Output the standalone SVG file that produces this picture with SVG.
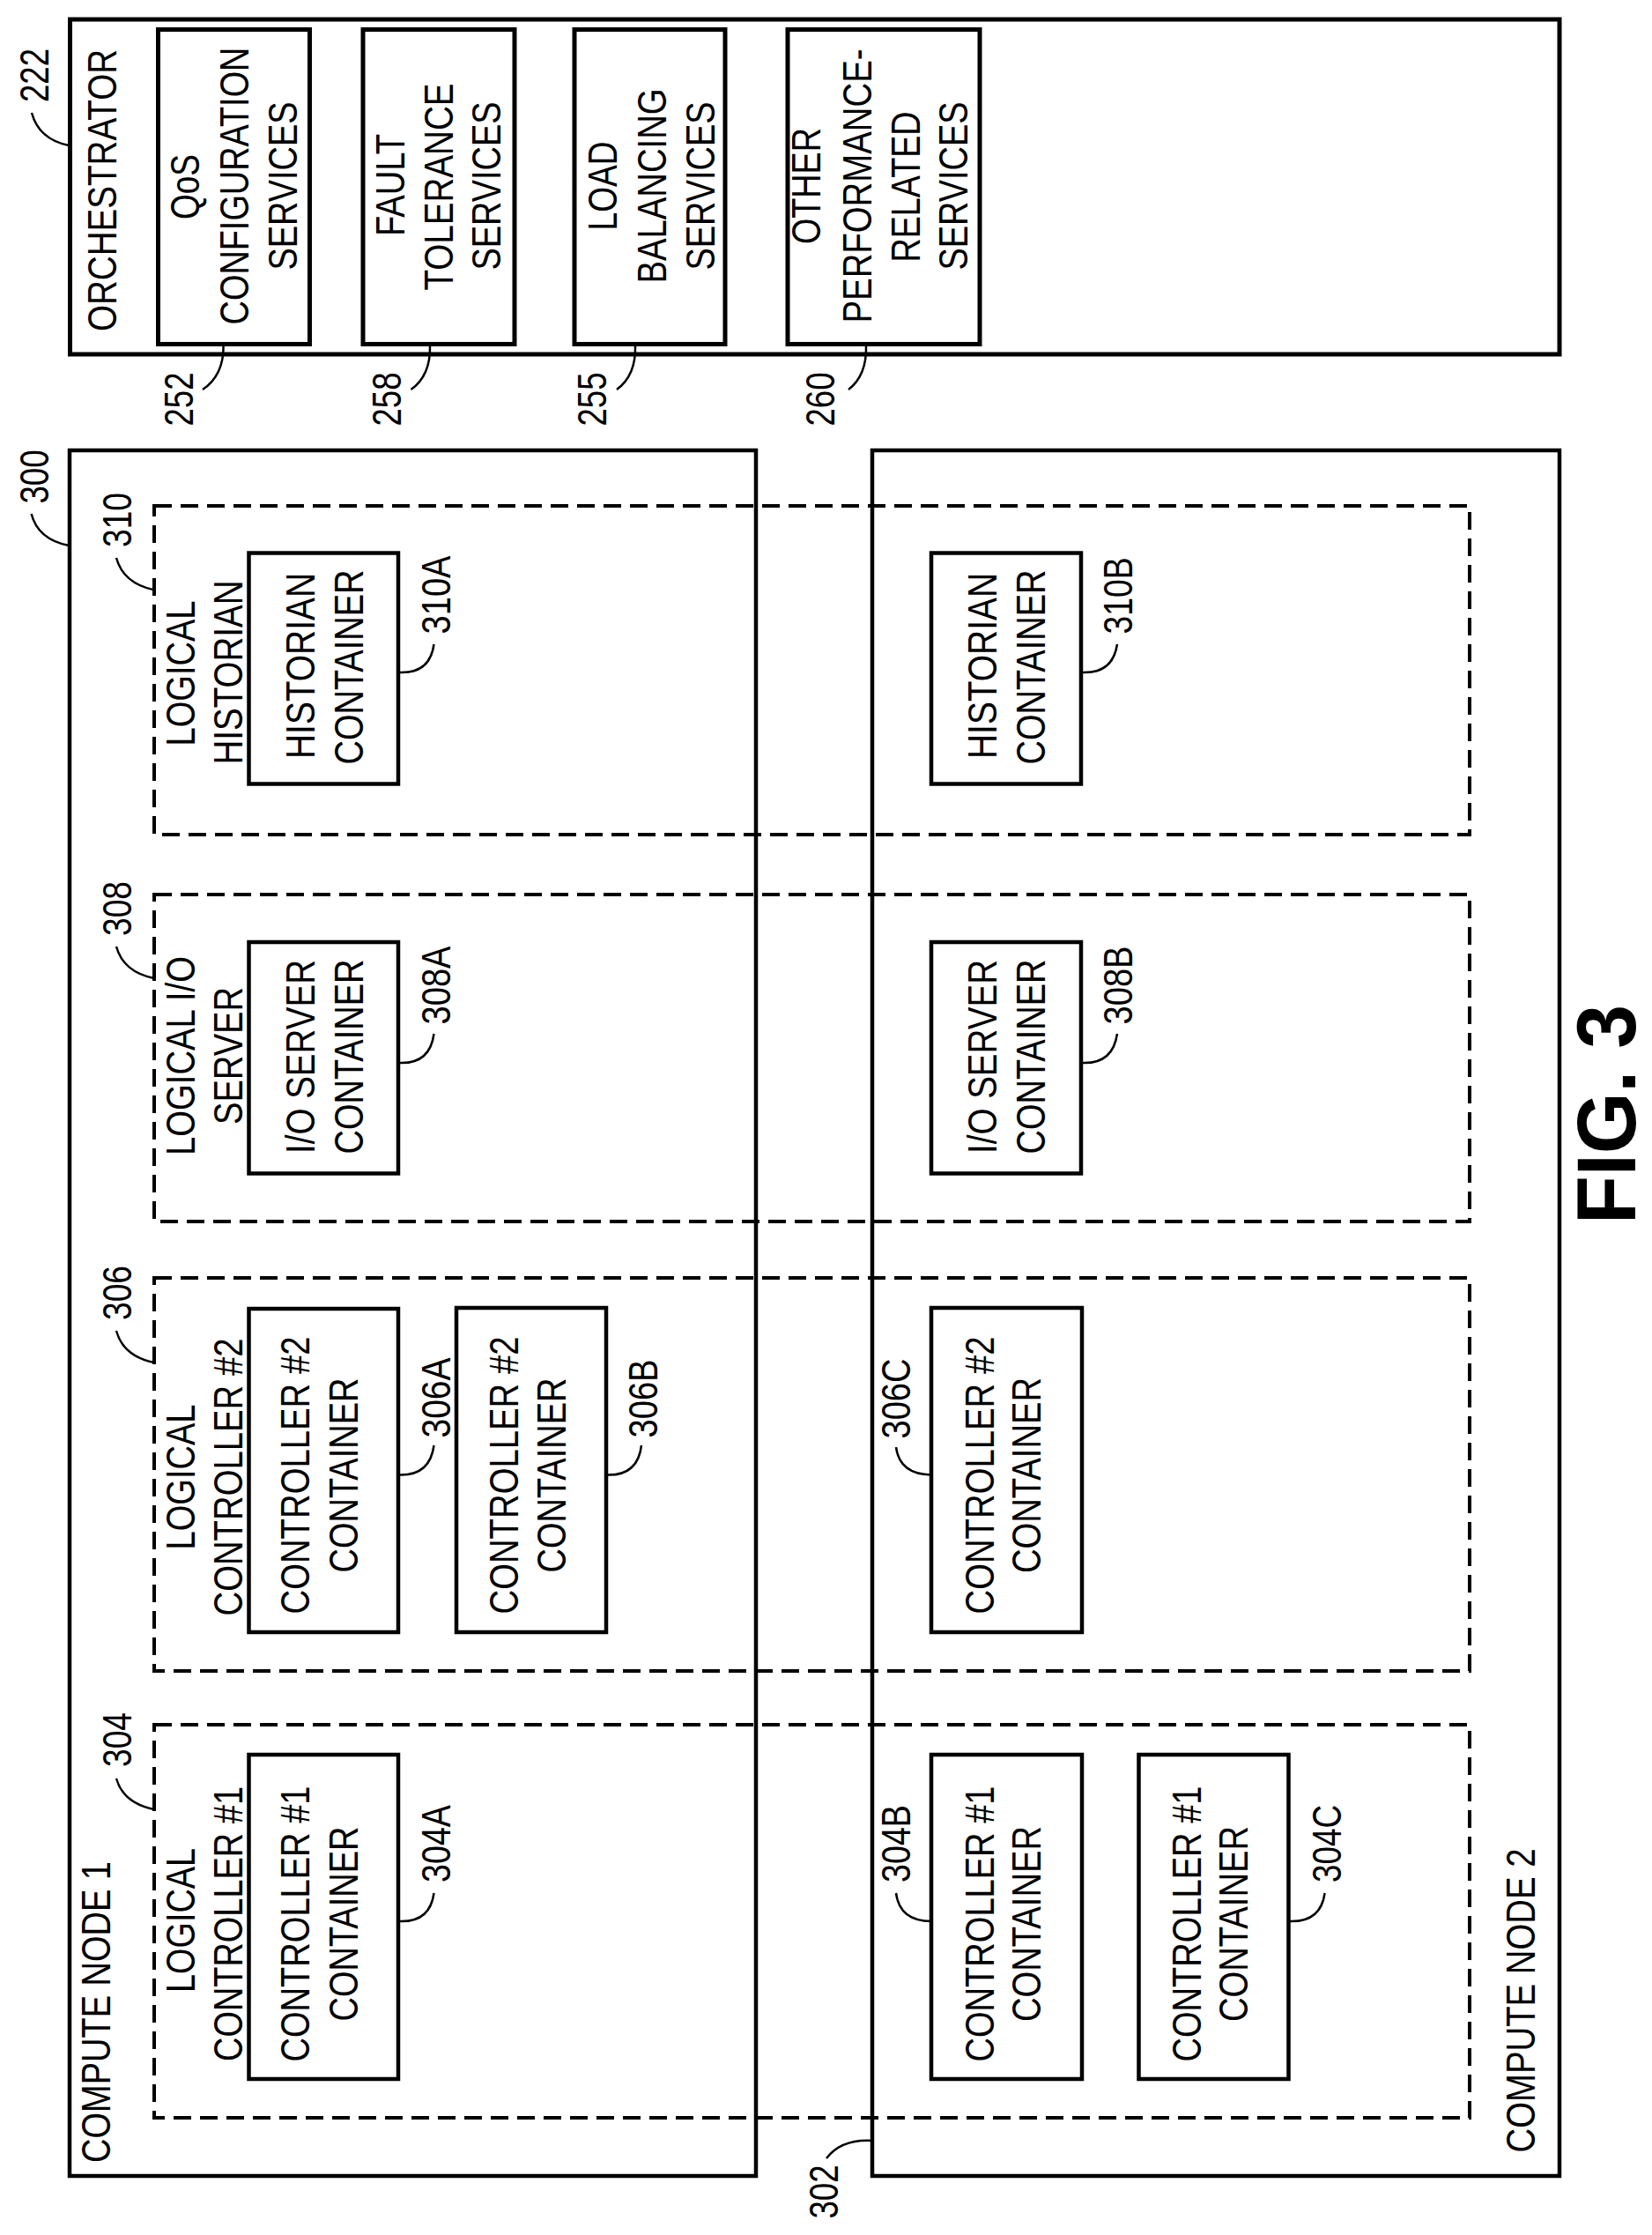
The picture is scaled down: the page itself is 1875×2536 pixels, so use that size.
<svg xmlns="http://www.w3.org/2000/svg" width="1875" height="2536" viewBox="0 0 1875 2536">
<style>
text{font-family:"Liberation Sans",Arial,sans-serif;font-size:47px;fill:#000;text-anchor:middle}
.f{font-size:94px;font-weight:bold}
rect{fill:none;stroke:#000;stroke-width:4.5}
.o{stroke-width:5}
.d{stroke-width:4;stroke-dasharray:20 10}
#connectors path{fill:none;stroke:#000;stroke-width:2.5}
</style>
<rect x="0" y="0" width="1875" height="2536" style="fill:#fff;stroke:none"/>
<g id="orchestrator">
<rect class="o" x="79.5" y="22" width="1690.5" height="380"/>
<text transform="translate(132 216) rotate(-90) scale(.821 1)">ORCHESTRATOR</text>
<text transform="translate(55 85.5) rotate(-90)" textLength="61" lengthAdjust="spacingAndGlyphs">222</text>
</g>
<g id="n252">
<rect class="o" x="179.5" y="33.5" width="172" height="357"/>
<text transform="translate(226 212) rotate(-90)" textLength="74" lengthAdjust="spacingAndGlyphs">QoS</text>
<text transform="translate(282 211) rotate(-90) scale(.806 1)">CONFIGURATION</text>
<text transform="translate(337 211) rotate(-90)" textLength="191" lengthAdjust="spacingAndGlyphs">SERVICES</text>
<text transform="translate(219 453) rotate(-90)" textLength="61" lengthAdjust="spacingAndGlyphs">252</text>
</g>
<g id="n258">
<rect class="o" x="412" y="33.5" width="172" height="357"/>
<text transform="translate(459 210) rotate(-90)" textLength="116" lengthAdjust="spacingAndGlyphs">FAULT</text>
<text transform="translate(514 212) rotate(-90)" textLength="235" lengthAdjust="spacingAndGlyphs">TOLERANCE</text>
<text transform="translate(568 211) rotate(-90)" textLength="191" lengthAdjust="spacingAndGlyphs">SERVICES</text>
<text transform="translate(454.5 453) rotate(-90)" textLength="61" lengthAdjust="spacingAndGlyphs">258</text>
</g>
<g id="n255">
<rect class="o" x="652" y="33.5" width="171" height="357"/>
<text transform="translate(700 211) rotate(-90)" textLength="101" lengthAdjust="spacingAndGlyphs">LOAD</text>
<text transform="translate(756 211) rotate(-90)" textLength="221" lengthAdjust="spacingAndGlyphs">BALANCING</text>
<text transform="translate(811 211) rotate(-90)" textLength="191" lengthAdjust="spacingAndGlyphs">SERVICES</text>
<text transform="translate(688 453) rotate(-90)" textLength="61" lengthAdjust="spacingAndGlyphs">255</text>
</g>
<g id="n260">
<rect class="o" x="894" y="33.5" width="218" height="357"/>
<text transform="translate(931 211) rotate(-90)" textLength="132" lengthAdjust="spacingAndGlyphs">OTHER</text>
<text transform="translate(989 211) rotate(-90) scale(.816 1)">PERFORMANCE-</text>
<text transform="translate(1044 212) rotate(-90)" textLength="171" lengthAdjust="spacingAndGlyphs">RELATED</text>
<text transform="translate(1098 211) rotate(-90)" textLength="191" lengthAdjust="spacingAndGlyphs">SERVICES</text>
<text transform="translate(947 453) rotate(-90)" textLength="61" lengthAdjust="spacingAndGlyphs">260</text>
</g>
<g id="compute-node-1">
<rect x="79" y="511" width="779" height="1958"/>
<text transform="translate(125 2283) rotate(-90)" textLength="342" lengthAdjust="spacingAndGlyphs">COMPUTE NODE 1</text>
<text transform="translate(54.5 541) rotate(-90)" textLength="61" lengthAdjust="spacingAndGlyphs">300</text>
</g>
<g id="compute-node-2">
<rect x="990" y="511" width="780" height="1958"/>
<text transform="translate(1742 2270) rotate(-90)" textLength="345" lengthAdjust="spacingAndGlyphs">COMPUTE NODE 2</text>
<text transform="translate(951 2487) rotate(-90)" textLength="61" lengthAdjust="spacingAndGlyphs">302</text>
</g>
<g id="logical-historian">
<rect class="d" x="175" y="574" width="1493" height="373"/>
<text transform="translate(220.5 764) rotate(-90)" textLength="165" lengthAdjust="spacingAndGlyphs">LOGICAL</text>
<text transform="translate(275 763) rotate(-90)" textLength="209" lengthAdjust="spacingAndGlyphs">HISTORIAN</text>
<text transform="translate(149 590) rotate(-90)" textLength="62" lengthAdjust="spacingAndGlyphs">310</text>
</g>
<g id="logical-io">
<rect class="d" x="175" y="1015" width="1493" height="371"/>
<text transform="translate(220.5 1198) rotate(-90)" textLength="226" lengthAdjust="spacingAndGlyphs">LOGICAL I/O</text>
<text transform="translate(275 1198) rotate(-90)" textLength="156" lengthAdjust="spacingAndGlyphs">SERVER</text>
<text transform="translate(149 1031) rotate(-90)" textLength="62" lengthAdjust="spacingAndGlyphs">308</text>
</g>
<g id="logical-c2">
<rect class="d" x="175" y="1450" width="1493" height="446"/>
<text transform="translate(220.5 1676) rotate(-90)" textLength="165" lengthAdjust="spacingAndGlyphs">LOGICAL</text>
<text transform="translate(275 1676) rotate(-90)" textLength="315" lengthAdjust="spacingAndGlyphs">CONTROLLER #2</text>
<text transform="translate(149 1467) rotate(-90)" textLength="62" lengthAdjust="spacingAndGlyphs">306</text>
</g>
<g id="logical-c1">
<rect class="d" x="175" y="1957" width="1493" height="446"/>
<text transform="translate(220.5 2179) rotate(-90)" textLength="164" lengthAdjust="spacingAndGlyphs">LOGICAL</text>
<text transform="translate(275 2183) rotate(-90)" textLength="312" lengthAdjust="spacingAndGlyphs">CONTROLLER #1</text>
<text transform="translate(149 1974) rotate(-90)" textLength="62" lengthAdjust="spacingAndGlyphs">304</text>
</g>
<g id="n310A">
<rect x="282.5" y="627.5" width="169.5" height="262"/>
<text transform="translate(357 755.5) rotate(-90)" textLength="211" lengthAdjust="spacingAndGlyphs">HISTORIAN</text>
<text transform="translate(412 757) rotate(-90)" textLength="221" lengthAdjust="spacingAndGlyphs">CONTAINER</text>
<text transform="translate(511 675) rotate(-90)" textLength="89" lengthAdjust="spacingAndGlyphs">310A</text>
</g>
<g id="n310B">
<rect x="1057" y="627.5" width="170" height="262"/>
<text transform="translate(1131 755.5) rotate(-90)" textLength="211" lengthAdjust="spacingAndGlyphs">HISTORIAN</text>
<text transform="translate(1186 757) rotate(-90)" textLength="221" lengthAdjust="spacingAndGlyphs">CONTAINER</text>
<text transform="translate(1285 676) rotate(-90)" textLength="87" lengthAdjust="spacingAndGlyphs">310B</text>
</g>
<g id="n308A">
<rect x="282.5" y="1069" width="169.5" height="262.5"/>
<text transform="translate(357 1199) rotate(-90)" textLength="220" lengthAdjust="spacingAndGlyphs">I/O SERVER</text>
<text transform="translate(412 1199) rotate(-90)" textLength="221" lengthAdjust="spacingAndGlyphs">CONTAINER</text>
<text transform="translate(511 1118) rotate(-90)" textLength="89" lengthAdjust="spacingAndGlyphs">308A</text>
</g>
<g id="n308B">
<rect x="1057" y="1069" width="170" height="262.5"/>
<text transform="translate(1131 1199) rotate(-90)" textLength="220" lengthAdjust="spacingAndGlyphs">I/O SERVER</text>
<text transform="translate(1186 1199) rotate(-90)" textLength="221" lengthAdjust="spacingAndGlyphs">CONTAINER</text>
<text transform="translate(1285 1118) rotate(-90)" textLength="89" lengthAdjust="spacingAndGlyphs">308B</text>
</g>
<g id="n306A">
<rect x="282.5" y="1485" width="169.5" height="367"/>
<text transform="translate(351 1674) rotate(-90)" textLength="315" lengthAdjust="spacingAndGlyphs">CONTROLLER #2</text>
<text transform="translate(406 1674) rotate(-90)" textLength="221" lengthAdjust="spacingAndGlyphs">CONTAINER</text>
<text transform="translate(511 1586) rotate(-90)" textLength="91" lengthAdjust="spacingAndGlyphs">306A</text>
</g>
<g id="n306B">
<rect x="518" y="1484" width="170" height="368"/>
<text transform="translate(588 1674) rotate(-90)" textLength="315" lengthAdjust="spacingAndGlyphs">CONTROLLER #2</text>
<text transform="translate(642 1674) rotate(-90)" textLength="221" lengthAdjust="spacingAndGlyphs">CONTAINER</text>
<text transform="translate(746 1587) rotate(-90)" textLength="89" lengthAdjust="spacingAndGlyphs">306B</text>
</g>
<g id="n306C">
<rect x="1057" y="1484" width="171" height="368"/>
<text transform="translate(1128 1674) rotate(-90)" textLength="315" lengthAdjust="spacingAndGlyphs">CONTROLLER #2</text>
<text transform="translate(1181 1674) rotate(-90)" textLength="222" lengthAdjust="spacingAndGlyphs">CONTAINER</text>
<text transform="translate(1033 1587) rotate(-90)" textLength="91" lengthAdjust="spacingAndGlyphs">306C</text>
</g>
<g id="n304A">
<rect x="282.5" y="1991" width="169.5" height="368"/>
<text transform="translate(351 2183) rotate(-90)" textLength="313" lengthAdjust="spacingAndGlyphs">CONTROLLER #1</text>
<text transform="translate(406 2183) rotate(-90)" textLength="221" lengthAdjust="spacingAndGlyphs">CONTAINER</text>
<text transform="translate(511 2092) rotate(-90)" textLength="88" lengthAdjust="spacingAndGlyphs">304A</text>
</g>
<g id="n304B">
<rect x="1057" y="1991" width="171" height="368"/>
<text transform="translate(1128 2183) rotate(-90)" textLength="313" lengthAdjust="spacingAndGlyphs">CONTROLLER #1</text>
<text transform="translate(1181 2183) rotate(-90)" textLength="222" lengthAdjust="spacingAndGlyphs">CONTAINER</text>
<text transform="translate(1033 2092) rotate(-90)" textLength="88" lengthAdjust="spacingAndGlyphs">304B</text>
</g>
<g id="n304C">
<rect x="1292.5" y="1991" width="170" height="368"/>
<text transform="translate(1363 2183) rotate(-90)" textLength="313" lengthAdjust="spacingAndGlyphs">CONTROLLER #1</text>
<text transform="translate(1416 2183) rotate(-90)" textLength="222" lengthAdjust="spacingAndGlyphs">CONTAINER</text>
<text transform="translate(1522 2092) rotate(-90)" textLength="88" lengthAdjust="spacingAndGlyphs">304C</text>
</g>
<g id="caption">
<text class="f" transform="translate(1855.5 1264.5) rotate(-90)" textLength="249" lengthAdjust="spacingAndGlyphs">FIG. 3</text>
</g>
<g id="connectors">
<path d="M78 165Q44 158 36 128"/>
<path d="M253.6 392Q254 426 230 442"/>
<path d="M488 392Q489 426 466.5 442"/>
<path d="M721 392Q722 426 700 442"/>
<path d="M983 392Q984 426 963 442"/>
<path d="M78 619Q43 612 35.6 583"/>
<path d="M175 669.4Q140 662 132 633"/>
<path d="M175 1110Q140 1103 132 1074"/>
<path d="M175 1546Q140 1539 132 1510"/>
<path d="M175 2053Q140 2046 132 2018"/>
<path d="M452 763Q488 765 492.5 731"/>
<path d="M452 1206Q488 1208 492.5 1173"/>
<path d="M452 1673.5Q488 1675 492.5 1640"/>
<path d="M452 2180Q488 2182 492.5 2148"/>
<path d="M688 1673.5Q724 1675 728 1640"/>
<path d="M1227 763Q1263 765 1268 731"/>
<path d="M1227 1206Q1263 1208 1268 1173"/>
<path d="M1057 1673.5Q1021 1673 1017 1642"/>
<path d="M1057 2180Q1021 2180 1017 2148"/>
<path d="M1462 2180Q1499 2182 1503.6 2148"/>
<path d="M990 2429Q955 2427 938 2449"/>
</g>
</svg>
